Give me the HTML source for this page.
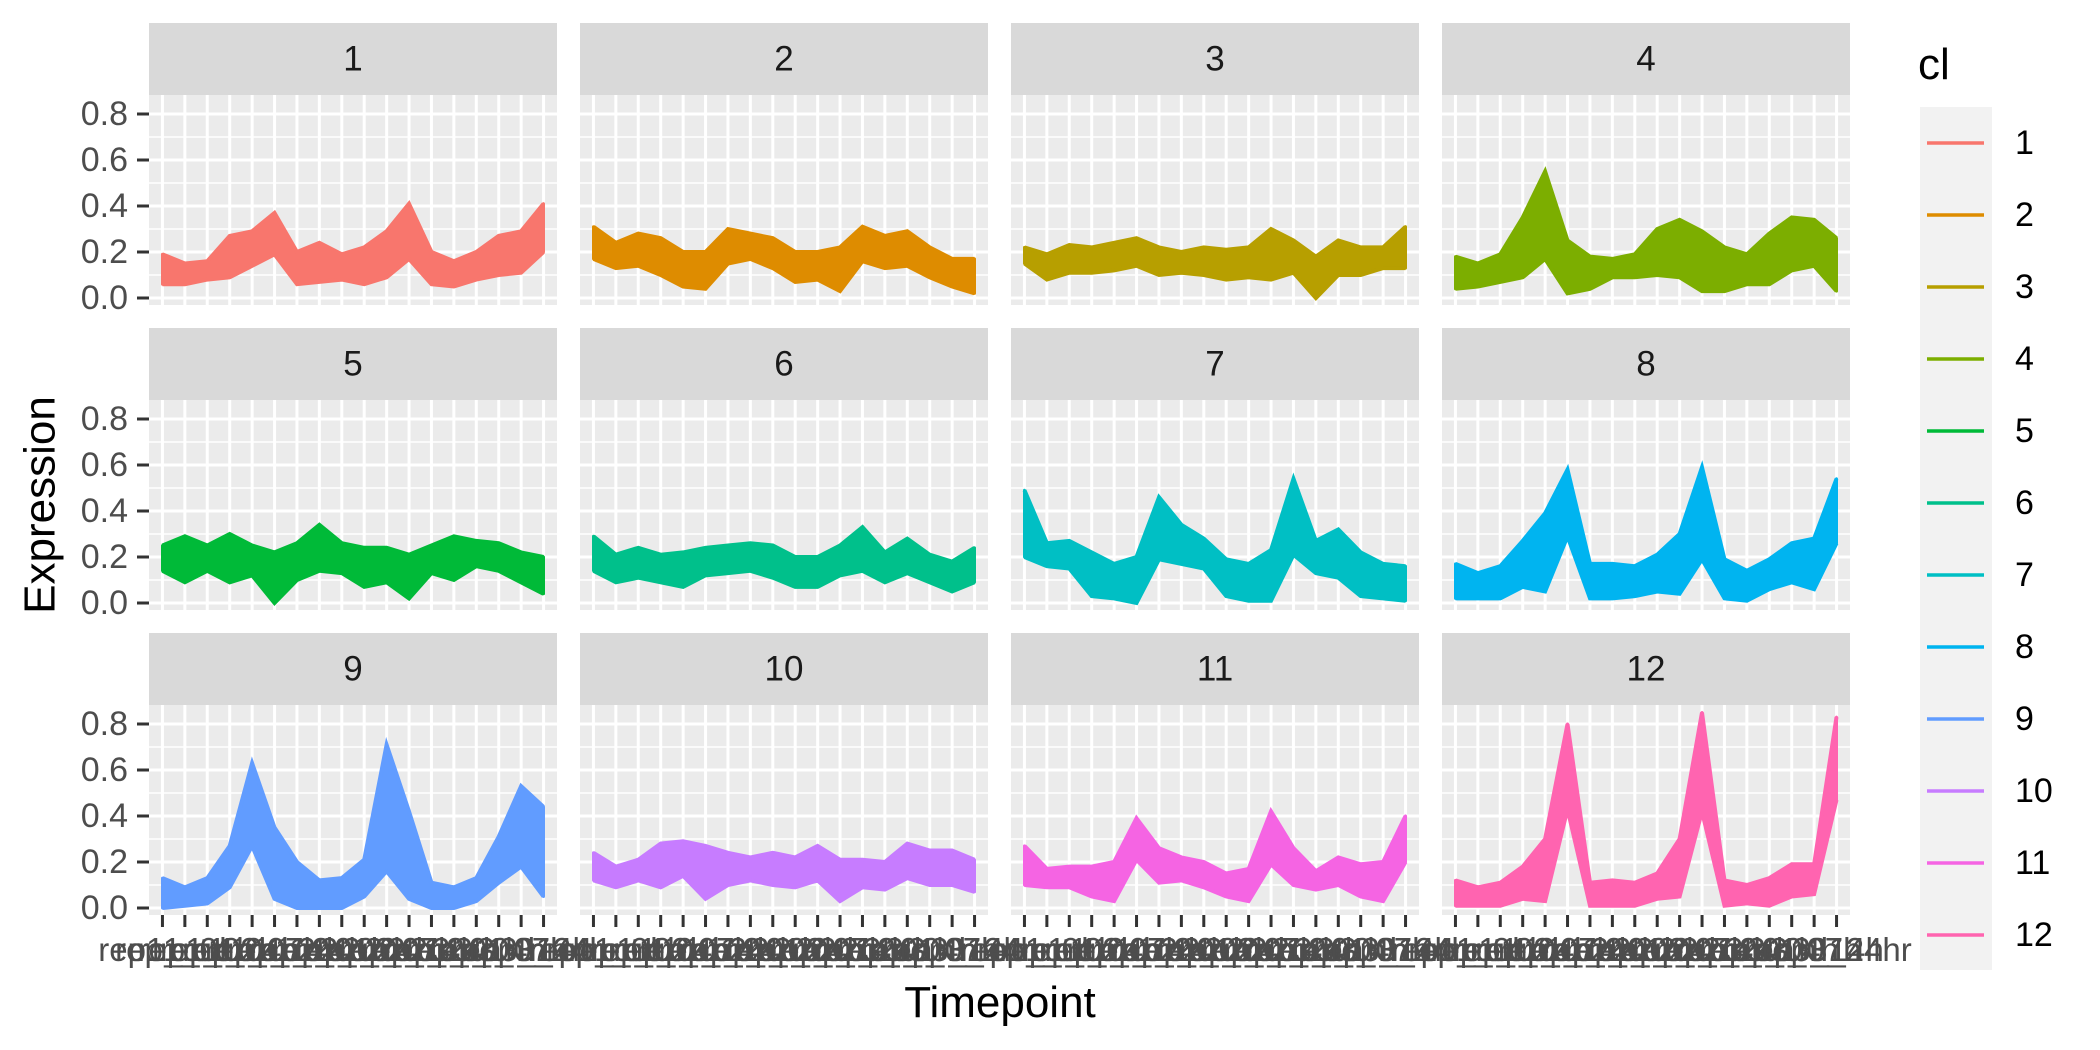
<!DOCTYPE html>
<html><head><meta charset="utf-8"><style>
html,body{margin:0;padding:0;background:#fff;}
svg{display:block;font-family:"Liberation Sans",Arial,sans-serif;}
</style></head><body>
<svg id="chart" width="2100" height="1050" viewBox="0 0 2100 1050" xmlns="http://www.w3.org/2000/svg">
<rect width="2100" height="1050" fill="#fff"/>
<text x="40" y="505" font-size="44" text-anchor="middle" dominant-baseline="central" transform="rotate(-90 40 505)" fill="#000">Expression</text>
<text x="1000" y="1017" font-size="44" text-anchor="middle" fill="#000">Timepoint</text>
<g>
<text x="1918" y="79" font-size="44" fill="#000">cl</text>
<rect x="1920" y="107" width="72" height="863" fill="#F2F2F2"/>
<g id="legendItems"></g>
</g>
<g id="panels"></g>
</svg>
<script>
const timepoints = ["rep1_ctrl","rep1_01h","rep1_02h","rep1_04h","rep1_07h","rep1_14h","rep1_24h","rep2_01h","rep2_02h","rep2_04h","rep2_07h","rep2_14h","rep2_24h","rep3_01h","rep3_04h","rep3_07h","rep3_14h","rep3_24hr"];
const clusters = ["1","2","3","4","5","6","7","8","9","10","11","12"];
const colors = ["#F8766D","#DE8C00","#B79F00","#7CAE00","#00BA38","#00C08B","#00BFC4","#00B4F0","#619CFF","#C77CFF","#F564E3","#FF64B0"];
const yTicks = [0, 0.2, 0.4, 0.6, 0.8];
const yTickLabels = ["0.0","0.2","0.4","0.6","0.8"];
const yMinor = [0.1, 0.3, 0.5, 0.7];
const upper1 = [0.19,0.15,0.16,0.27,0.29,0.37,0.20,0.24,0.19,0.22,0.29,0.41,0.20,0.16,0.20,0.27,0.29,0.41];
const lower1 = [0.06,0.06,0.08,0.09,0.14,0.19,0.06,0.07,0.08,0.06,0.09,0.17,0.06,0.05,0.08,0.10,0.11,0.20];
const upper2 = [0.31,0.24,0.28,0.26,0.20,0.20,0.30,0.28,0.26,0.20,0.20,0.22,0.31,0.27,0.29,0.22,0.17,0.17];
const lower2 = [0.17,0.13,0.14,0.10,0.05,0.04,0.15,0.17,0.13,0.07,0.08,0.03,0.16,0.13,0.14,0.09,0.05,0.02];
const upper3 = [0.22,0.19,0.23,0.22,0.24,0.26,0.22,0.20,0.22,0.21,0.22,0.30,0.25,0.18,0.25,0.22,0.22,0.31];
const lower3 = [0.15,0.08,0.11,0.11,0.12,0.14,0.10,0.11,0.10,0.08,0.09,0.08,0.11,0.00,0.10,0.10,0.13,0.13];
const upper4 = [0.18,0.15,0.19,0.35,0.55,0.25,0.18,0.17,0.19,0.30,0.34,0.29,0.22,0.19,0.28,0.35,0.34,0.26];
const lower4 = [0.04,0.05,0.07,0.09,0.17,0.02,0.04,0.09,0.09,0.10,0.09,0.03,0.03,0.06,0.06,0.12,0.14,0.03];
const upper5 = [0.25,0.29,0.25,0.30,0.25,0.22,0.26,0.34,0.26,0.24,0.24,0.21,0.25,0.29,0.27,0.26,0.22,0.20];
const lower5 = [0.14,0.09,0.14,0.09,0.12,0.00,0.10,0.14,0.13,0.07,0.09,0.02,0.13,0.10,0.16,0.14,0.09,0.04];
const upper6 = [0.29,0.21,0.24,0.21,0.22,0.24,0.25,0.26,0.25,0.20,0.20,0.25,0.33,0.22,0.28,0.21,0.18,0.24];
const lower6 = [0.14,0.09,0.11,0.09,0.07,0.12,0.13,0.14,0.11,0.07,0.07,0.12,0.14,0.09,0.13,0.09,0.05,0.09];
const upper7 = [0.49,0.26,0.27,0.22,0.17,0.20,0.46,0.34,0.28,0.19,0.17,0.23,0.54,0.27,0.32,0.22,0.17,0.16];
const lower7 = [0.20,0.16,0.15,0.03,0.02,0.00,0.19,0.17,0.15,0.03,0.01,0.01,0.21,0.13,0.11,0.03,0.02,0.01];
const upper8 = [0.17,0.13,0.16,0.27,0.39,0.58,0.17,0.17,0.16,0.21,0.30,0.59,0.19,0.14,0.19,0.26,0.28,0.54];
const lower8 = [0.02,0.02,0.02,0.07,0.05,0.29,0.02,0.02,0.03,0.05,0.04,0.19,0.02,0.01,0.06,0.09,0.06,0.26];
const upper9 = [0.13,0.09,0.13,0.27,0.63,0.35,0.20,0.12,0.13,0.21,0.71,0.42,0.11,0.09,0.13,0.31,0.53,0.44];
const lower9 = [0.00,0.01,0.02,0.09,0.27,0.04,0.00,0.00,0.00,0.05,0.16,0.04,0.00,0.00,0.03,0.11,0.18,0.05];
const upper10 = [0.24,0.18,0.21,0.28,0.29,0.27,0.24,0.22,0.24,0.22,0.27,0.21,0.21,0.20,0.28,0.25,0.25,0.21];
const lower10 = [0.12,0.09,0.12,0.09,0.14,0.04,0.10,0.12,0.10,0.09,0.12,0.03,0.09,0.08,0.13,0.10,0.10,0.07];
const upper11 = [0.27,0.17,0.18,0.18,0.20,0.39,0.26,0.22,0.20,0.15,0.17,0.42,0.26,0.16,0.22,0.19,0.20,0.40];
const lower11 = [0.10,0.09,0.09,0.05,0.03,0.21,0.11,0.12,0.09,0.05,0.03,0.19,0.10,0.08,0.10,0.05,0.03,0.20];
const upper12 = [0.12,0.09,0.11,0.18,0.30,0.80,0.11,0.12,0.11,0.15,0.30,0.85,0.12,0.10,0.13,0.19,0.19,0.83];
const lower12 = [0.01,0.01,0.01,0.04,0.03,0.43,0.01,0.01,0.01,0.04,0.05,0.42,0.01,0.02,0.01,0.05,0.06,0.47];
const uppers = [upper1,upper2,upper3,upper4,upper5,upper6,upper7,upper8,upper9,upper10,upper11,upper12];
const lowers = [lower1,lower2,lower3,lower4,lower5,lower6,lower7,lower8,lower9,lower10,lower11,lower12];

const NS = "http://www.w3.org/2000/svg";
const PW = 408, PH = 210, STRIP = 72, Y0 = -0.0304, Y1 = 0.8826;
function mk(tag, attrs, parent) {
  const e = document.createElementNS(NS, tag);
  for (const k in attrs) e.setAttribute(k, attrs[k]);
  parent.appendChild(e);
  return e;
}
function panelX(c) { return 149 + 431 * c; }
function panelY(r) { return 95 + 305 * r; }
function xScale(c, i) { return panelX(c) + (0.6 + i) * PW / (timepoints.length - 1 + 1.2); }
function yScale(r, v) { return panelY(r) + PH - (v - Y0) / (Y1 - Y0) * PH; }

const root = document.getElementById("panels");
clusters.forEach((cl, k) => {
  const r = Math.floor(k / 4), c = k % 4;
  const g = mk("g", {}, root);
  
  
  const strip = mk("rect", {x: panelX(c), y: panelY(r) - STRIP, width: PW, height: STRIP, fill: "#D9D9D9"}, g);
  
  
  const st = mk("text", {x: panelX(c) + PW / 2, y: panelY(r) - STRIP / 2, "font-size": 35, "text-anchor": "middle", "dominant-baseline": "central", fill: "#1A1A1A"}, g);
  st.textContent = cl;
  
  
  const bg = mk("rect", {x: panelX(c), y: panelY(r), width: PW, height: PH, fill: "#EBEBEB"}, g);
  
  
  yMinor.forEach(v => {
    const l = mk("line", {x1: panelX(c), x2: panelX(c) + PW, y1: yScale(r, v), y2: yScale(r, v), stroke: "#fff", "stroke-width": 1.5}, g);
    
    
  });
  yTicks.forEach(v => {
    const l = mk("line", {x1: panelX(c), x2: panelX(c) + PW, y1: yScale(r, v), y2: yScale(r, v), stroke: "#fff", "stroke-width": 3}, g);
    
    
  });
  timepoints.forEach((t, i) => {
    const l = mk("line", {x1: xScale(c, i), x2: xScale(c, i), y1: panelY(r), y2: panelY(r) + PH, stroke: "#fff", "stroke-width": 3}, g);
    
    
  });
  const up = uppers[k], lo = lowers[k];
  const ptsU = up.map((v, i) => xScale(c, i).toFixed(1) + "," + yScale(r, v).toFixed(1));
  const ptsL = lo.map((v, i) => xScale(c, i).toFixed(1) + "," + yScale(r, v).toFixed(1));
  const band = mk("polygon", {points: ptsU.concat(ptsL.slice().reverse()).join(" "), fill: colors[k], stroke: colors[k], "stroke-width": 3, "stroke-linejoin": "round"}, g);
  
  
  const lu = mk("polyline", {points: ptsU.join(" "), fill: "none", stroke: colors[k], "stroke-width": 4}, g);
  
  
  const ll = mk("polyline", {points: ptsL.join(" "), fill: "none", stroke: colors[k], "stroke-width": 4}, g);
  
  
  if (c === 0) {
    yTicks.forEach((v, j) => {
      const tk = mk("line", {x1: 137, x2: 149, y1: yScale(r, v), y2: yScale(r, v), stroke: "#333", "stroke-width": 3}, g);
      
      
      const tl = mk("text", {x: 128, y: yScale(r, v), "font-size": 34, "text-anchor": "end", "dominant-baseline": "central", fill: "#4D4D4D"}, g);
      tl.textContent = yTickLabels[j];
      
      
    });
  }
  if (r === 2) {
    timepoints.forEach((t, i) => {
      const tk = mk("line", {x1: xScale(c, i), x2: xScale(c, i), y1: panelY(r) + PH, y2: panelY(r) + PH + 12, stroke: "#333", "stroke-width": 3}, g);
      
      
      const tl = mk("text", {x: xScale(c, i), y: 961, "font-size": 33, "text-anchor": "middle", fill: "#4D4D4D"}, g);
      tl.textContent = t;
      
      
    });
  }
});

const leg = document.getElementById("legendItems");
clusters.forEach((cl, k) => {
  const y = 143 + 72 * k;
  const item = mk("g", {}, leg);
  
  
  const l = mk("line", {x1: 1927, x2: 1984, y1: y, y2: y, stroke: colors[k], "stroke-width": 3.5}, item);
  
  
  const t = mk("text", {x: 2015, y: y, "font-size": 34, "dominant-baseline": "central", fill: "#000"}, item);
  t.textContent = cl;
  
  
});
</script>
</body></html>
